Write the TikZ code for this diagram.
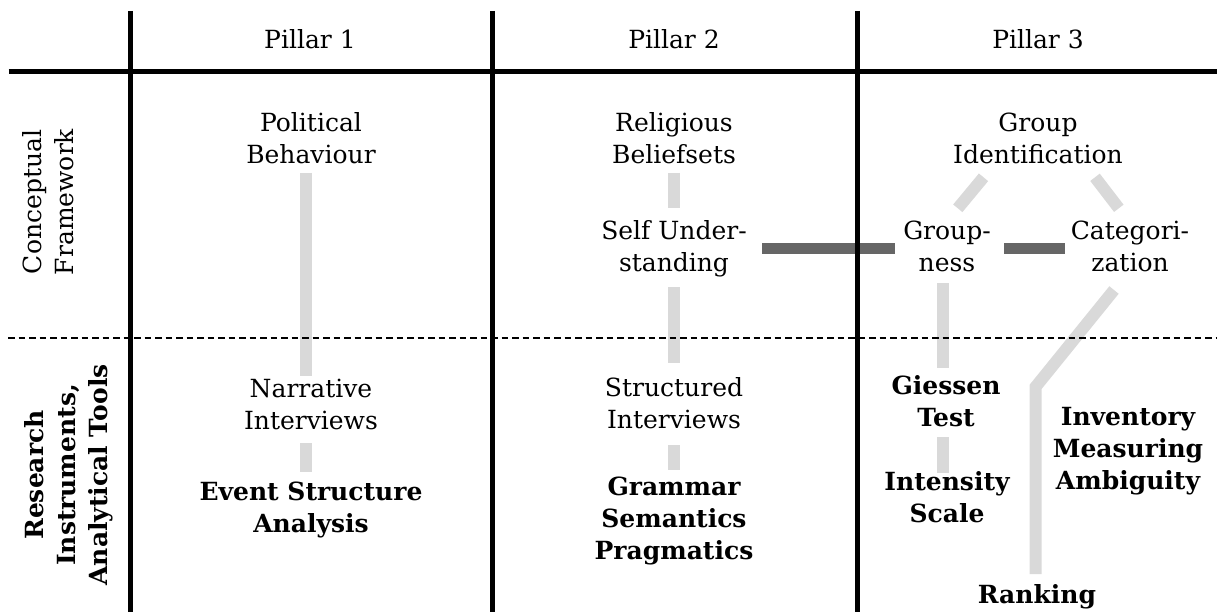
\documentclass[tikz,border=0pt]{standalone}
\usepackage{fontspec}
\setmainfont{DejaVu Serif}
\usetikzlibrary{calc}
\definecolor{lightbar}{RGB}{217,217,217}
\definecolor{darkbar}{RGB}{102,102,102}
\begin{document}
\begin{tikzpicture}[x=1pt,y=-1pt,
  lbl/.style={font=\fontsize{25}{32}\selectfont, align=center, inner sep=0pt,
    execute at begin node=\strut, execute at end node=\strut},
  blbl/.style={lbl, font=\fontsize{25}{32}\selectfont\bfseries},
  gridline/.style={line width=5pt, black},
  rowsep/.style={line width=2.5pt, black, dash pattern=on 6.5pt off 4pt},
  bar/.style={line width=12pt, lightbar},
  strongbar/.style={line width=11pt, darkbar},
]
\useasboundingbox (0,0) rectangle (1217,612);

% headers
\node[lbl] (p1) at (310,42.6) {Pillar 1};
\node[lbl] (p2) at (674,42.6) {Pillar 2};
\node[lbl] (p3) at (1038,42.6) {Pillar 3};
\node[lbl, rotate=90] (cf) at (52.6,202) {Conceptual\\Framework};
\node[blbl, rotate=90] (ri) at (70.6,475) {Research\\Instruments,\\Analytical Tools};

% pillar 1
\node[lbl] (pb) at (311,142.6) {Political\\Behaviour};
\node[lbl] (ni) at (311,408.6) {Narrative\\Interviews};
\node[blbl] (esa) at (311,512) {Event Structure\\Analysis};

% pillar 2
\node[lbl] (rb) at (674,142.6) {Religious\\Beliefsets};
\node[lbl] (su) at (674,251) {Self Under-\\standing};
\node[lbl] (si) at (674,408) {Structured\\Interviews};
\node[blbl] (gsp) at (674,522.6) {Grammar\\Semantics\\Pragmatics};

% pillar 3
\node[lbl] (gi) at (1038,142.6) {Group\\Identification};
\node[lbl] (gr) at (947,251) {Group-\\ness};
\node[lbl] (ca) at (1130,251) {Categori-\\zation};
\node[blbl] (gt) at (946,405.6) {Giessen\\Test};
\node[blbl] (is) at (947,501.6) {Intensity\\Scale};
\node[blbl] (ima) at (1128,453.6) {Inventory\\Measuring\\Ambiguity};
\node[blbl] (rk) at (1037,596.6) {Ranking};
\coordinate (bend) at (1035.5,387);

% light connectors
\draw[bar] ($(pb.center)+(-5,30.4)$) -- ($(ni.center)+(-5,-32.6)$);
\draw[bar] ($(ni.center)+(-5,34.4)$) -- ($(esa.center)+(-5,-40)$);
\draw[bar] ($(rb.center)+(0,30.4)$) -- ($(su.center)+(0,-43)$);
\draw[bar] ($(su.center)+(0,36)$) -- ($(si.center)+(0,-45)$);
\draw[bar] ($(si.center)+(0,37)$) -- ($(gsp.center)+(0,-52.6)$);
\draw[bar] ($(gi.center)+(-54.5,34.7)$) -- ($(gr.center)+(10.8,-42.7)$);
\draw[bar] ($(gi.center)+(57,34.7)$) -- ($(ca.center)+(-11.2,-42.7)$);
\draw[bar] ($(gr.center)+(-4.4,32)$) -- ($(gt.center)+(-3.4,-37.6)$);
\draw[bar] ($(gt.center)+(-3.4,31.4)$) -- ($(is.center)+(-4.4,-28.6)$);
\draw[bar, line join=miter] ($(ca.center)+(-16,39)$) -- (bend) -- ($(rk.center)+(-1.5,-22.6)$);

% strong connectors
\draw[strongbar] ($(su.center)+(88,-2.5)$) -- ($(gr.center)+(-52.4,-2.5)$);
\draw[strongbar] ($(gr.center)+(57,-2.5)$) -- ($(ca.center)+(-65.4,-2.5)$);

% grid
\draw[gridline] (130,11) -- (130,612);
\draw[gridline] (492,11) -- (492,612);
\draw[gridline] (857,11) -- (857,612);
\draw[gridline] (8.5,72) -- (1217,72);
\draw[rowsep] (8,338) -- (1217,338);
\end{tikzpicture}
\end{document}
